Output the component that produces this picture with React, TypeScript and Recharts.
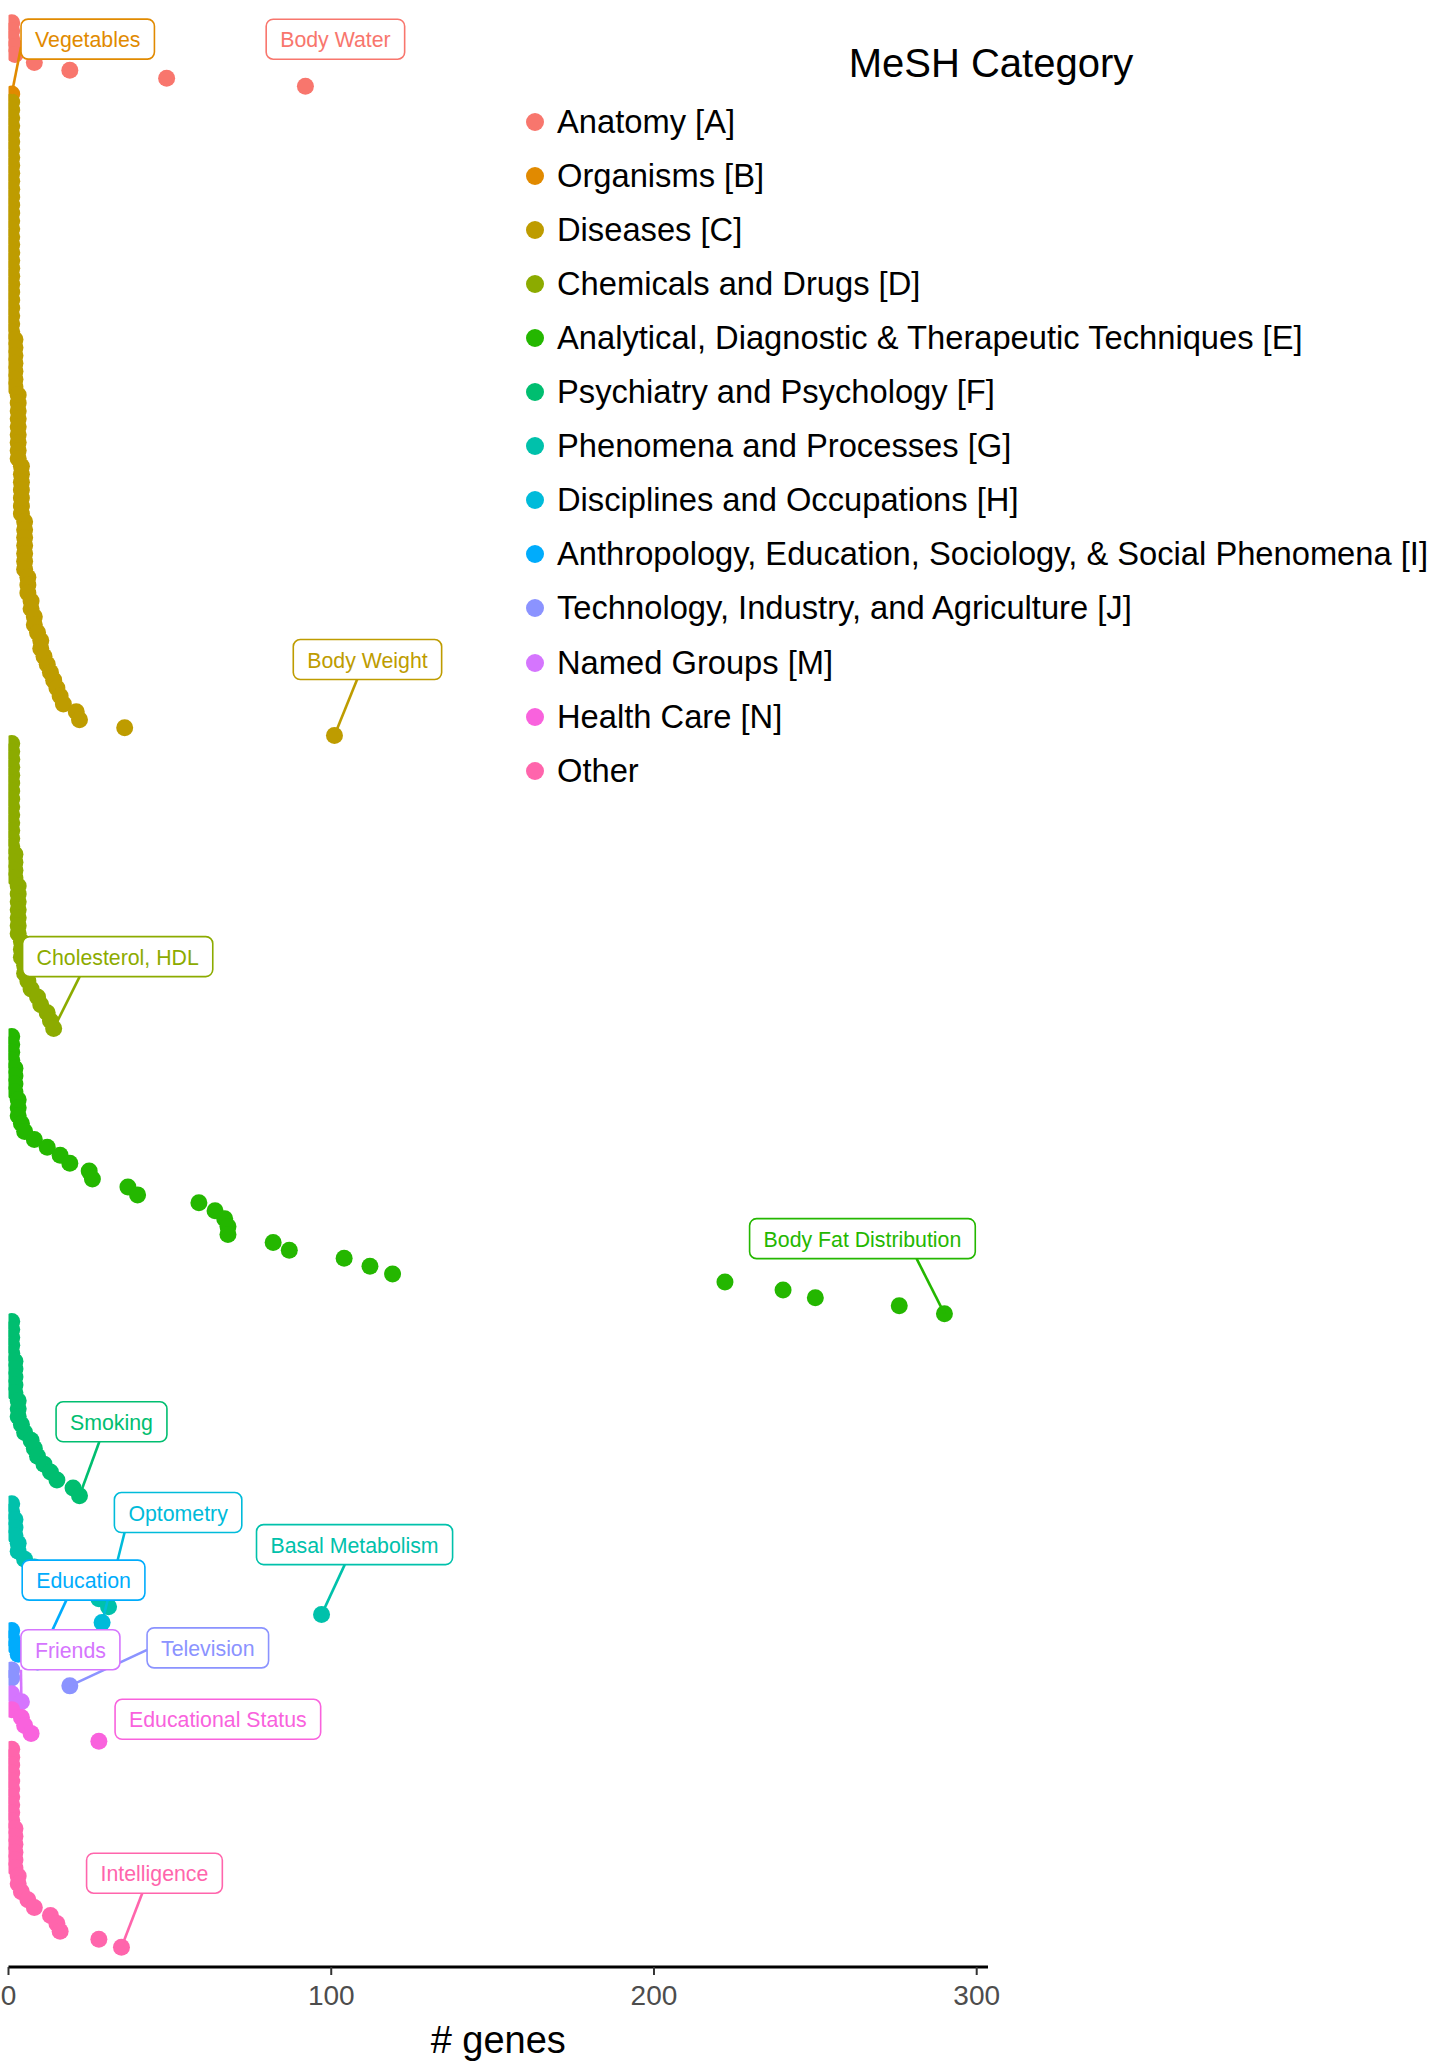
import React from 'react';
import { ScatterChart, Scatter, XAxis, YAxis } from 'recharts';

const FONT = '"Liberation Sans", Arial, Helvetica, sans-serif';

const categories = [
  'Anatomy [A]',
  'Organisms [B]',
  'Diseases [C]',
  'Chemicals and Drugs [D]',
  'Analytical, Diagnostic & Therapeutic Techniques [E]',
  'Psychiatry and Psychology [F]',
  'Phenomena and Processes [G]',
  'Disciplines and Occupations [H]',
  'Anthropology, Education, Sociology, & Social Phenomena [I]',
  'Technology, Industry, and Agriculture [J]',
  'Named Groups [M]',
  'Health Care [N]',
  'Other',
];

const colors = [
  '#F8766D', '#E18A00', '#BE9C00', '#8CAB00', '#24B700', '#00BE70', '#00C1AB',
  '#00BBDA', '#00ACFC', '#8B93FF', '#D575FE', '#F962DD', '#FF65AC',
];

// number of genes per trait, sorted within each MeSH category
const anatomy = [1, 1, 1, 2, 2, 8, 19, 49, 92];
const organisms = [1];
const diseases = [
  1, 1, 1, 1, 1, 1, 1, 1, 1, 1, 1, 1, 1, 1, 1, 1, 1, 1, 1, 1, 1, 1, 1, 1, 1, 1, 1, 1, 1, 1,
  2, 2, 2, 2, 2, 2, 2,
  3, 3, 3, 3, 3, 3, 3, 3, 3,
  4, 4, 4, 4, 4, 4, 4,
  5, 5, 5, 5, 5, 5, 5,
  6, 6, 6,
  7, 7, 8, 8, 9, 10, 10, 11, 12, 13, 14, 15, 16, 17, 21, 22, 36, 101,
];
const chemicals = [
  1, 1, 1, 1, 1, 1, 1, 1, 1, 1, 1, 1, 1, 1,
  2, 2, 2, 2,
  3, 3, 3, 3, 3, 3,
  3, 4, 4, 4, 5, 5, 6, 7, 9, 10, 12, 13, 14,
];
const analytical = [
  1, 1, 1, 1, 2, 2, 2, 2, 3, 3, 3, 4, 5, 8, 12, 16, 19, 25, 26, 37, 40, 59, 64, 67, 68, 68,
  82, 87, 104, 112, 119, 222, 240, 250, 276, 290,
];
const psychiatry = [1, 1, 1, 1, 1, 2, 2, 2, 2, 2, 3, 3, 3, 4, 5, 7, 8, 9, 11, 13, 15, 20, 22];
const phenomena = [1, 1, 2, 2, 2, 3, 3, 5, 8, 12, 18, 24, 28, 31, 97];
const disciplines = [29];
const anthropology = [1, 1, 2, 3, 9];
const technology = [1, 1, 19];
const namedGroups = [1, 4];
const healthCare = [1, 4, 5, 7, 28];
const other = [1, 1, 1, 1, 1, 1, 1, 1, 1, 1, 2, 2, 2, 2, 2, 2, 3, 3, 4, 6, 8, 13, 15, 16, 28, 35];

const seriesValues = [
  anatomy, organisms, diseases, chemicals, analytical, psychiatry, phenomena,
  disciplines, anthropology, technology, namedGroups, healthCare, other,
];

// top trait of each category
const topTraits = [
  'Body Water', 'Vegetables', 'Body Weight', 'Cholesterol, HDL', 'Body Fat Distribution',
  'Smoking', 'Basal Metabolism', 'Optometry', 'Education', 'Television', 'Friends',
  'Educational Status', 'Intelligence',
];

const xTicks = [0, 100, 200, 300];

// label box placement: centre offset from the point (px) and segment anchor on the box (fractions)
const labelPlacement = [
  { dx: 30, dy: -47, anchor: null },
  { dx: 76, dy: -55, anchor: [0, 0.7] },
  { dx: 33, dy: -76, anchor: [0.43, 1] },
  { dx: 64, dy: -72, anchor: [0.3, 1] },
  { dx: -82, dy: -75, anchor: [0.74, 1] },
  { dx: 32, dy: -74, anchor: [0.39, 1] },
  { dx: 33, dy: -70, anchor: [0.45, 1] },
  { dx: 76, dy: -110, anchor: [0.08, 1] },
  { dx: 46, dy: -82, anchor: [0.36, 1] },
  { dx: 138, dy: -38, anchor: [0, 0.55] },
  { dx: 49, dy: -52, anchor: [0, 1] },
  { dx: 119, dy: -22, anchor: null },
  { dx: 33, dy: -74, anchor: [0.41, 1] },
];

let rowCounter = 0;
const series = seriesValues.map((vals, ci) =>
  vals.map((v) => ({ x: v, y: rowCounter++, cat: ci }))
);
const totalRows = rowCounter;
const labelPoints = series.map((pts, ci) => ({ ...pts[pts.length - 1], text: topTraits[ci] }));

const measureCtx = typeof document !== 'undefined' ? document.createElement('canvas').getContext('2d') : null;
const textWidth = (s: string, size: number) => {
  if (measureCtx) {
    measureCtx.font = `${size}px "Liberation Sans", Arial, sans-serif`;
    return measureCtx.measureText(s).width;
  }
  return s.length * size * 0.52;
};

const Dot = (color: string) => (props: any) => (
  <circle cx={props.cx} cy={props.cy} r={8.5} fill={color} />
);

const LabelShape = (props: any) => {
  const { cx, cy, payload } = props;
  const color = colors[payload.cat];
  const place = labelPlacement[payload.cat];
  const w = textWidth(payload.text, 21.3) + 28;
  const h = 40;
  const bx = cx + place.dx - w / 2;
  const by = cy + place.dy - h / 2;
  return (
    <g>
      {place.anchor && (
        <line x1={cx} y1={cy} x2={bx + place.anchor[0] * w} y2={by + place.anchor[1] * h} stroke={color} strokeWidth={2.6} />
      )}
      <rect x={bx} y={by} width={w} height={h} rx={7} fill="#fff" stroke={color} strokeWidth={1.6} />
      <text x={bx + w / 2} y={by + h / 2 + 1} textAnchor="middle" dominantBaseline="central" fill={color} fontSize={21.3} fontFamily={FONT}>
        {payload.text}
      </text>
    </g>
  );
};

const Legend = () => (
  <div style={{ position: 'absolute', left: 520, top: 0, fontFamily: FONT, color: '#000' }}>
    <div style={{ position: 'absolute', left: 171, width: 600, top: 38, lineHeight: '50px', fontSize: 40, textAlign: 'center', whiteSpace: 'nowrap' }}>
      MeSH Category
    </div>
    {categories.map((c, i) => (
      <div key={c} style={{ position: 'absolute', left: 0, top: 94.5 + i * 54.1, height: 54, display: 'flex', alignItems: 'center', whiteSpace: 'nowrap' }}>
        <span style={{ display: 'inline-block', width: 18, height: 18, borderRadius: '50%', background: colors[i], marginLeft: 6, marginRight: 13 }} />
        <span style={{ fontSize: 32.7 }}>{c}</span>
      </div>
    ))}
  </div>
);

export default function App() {
  return (
    <div style={{ position: 'absolute', left: 0, top: 0, width: 1434, height: 2070, background: '#fff' }}>
      <ScatterChart width={1434} height={2070} margin={{ top: 7, right: 446, bottom: 0, left: 8.5 }}>
        <XAxis
          type="number"
          dataKey="x"
          domain={[0, 303.5]}
          ticks={xTicks}
          interval={0}
          allowDataOverflow
          height={103}
          axisLine={{ stroke: '#000', strokeWidth: 3 }}
          tickLine={{ stroke: '#333', strokeWidth: 2 }}
          tickSize={8}
          tickMargin={10}
          tick={{ fontSize: 28, fill: '#4D4D4D', fontFamily: FONT }}
          label={{ value: '# genes', position: 'insideBottom', offset: 17, fontSize: 38, fill: '#000', fontFamily: FONT }}
        />
        <YAxis
          type="number"
          dataKey="y"
          domain={[-2, totalRows + 1.5]}
          reversed
          width={0}
          tick={false}
          tickLine={false}
          axisLine={{ stroke: '#000', strokeWidth: 3 }}
        />
        {series.map((pts, ci) => (
          <Scatter key={categories[ci]} name={categories[ci]} data={pts} fill={colors[ci]} shape={Dot(colors[ci])} isAnimationActive={false} />
        ))}
        <Scatter name="labels" data={labelPoints} shape={LabelShape} isAnimationActive={false} legendType="none" />
      </ScatterChart>
      <Legend />
    </div>
  );
}
